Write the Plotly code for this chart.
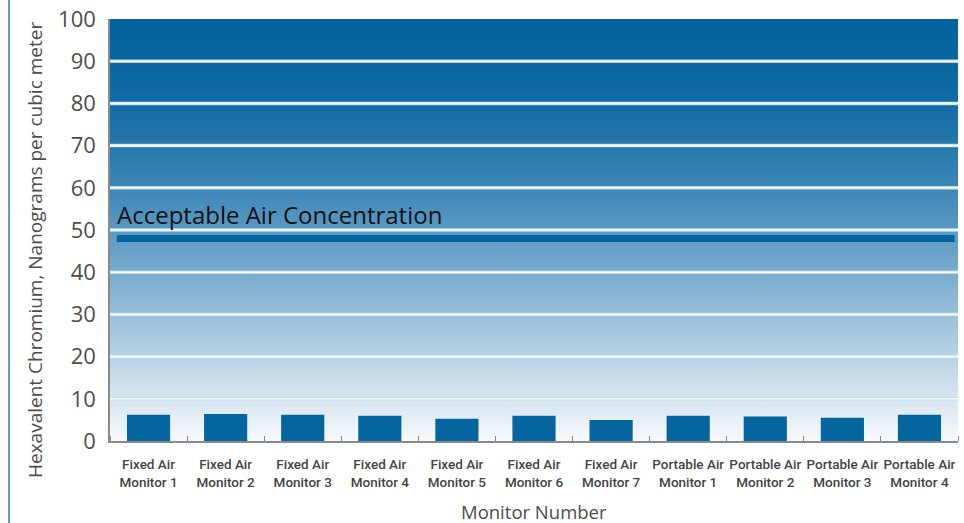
import plotly.graph_objects as go

categories = ["Fixed Air<br>Monitor 1", "Fixed Air<br>Monitor 2", "Fixed Air<br>Monitor 3",
              "Fixed Air<br>Monitor 4", "Fixed Air<br>Monitor 5", "Fixed Air<br>Monitor 6",
              "Fixed Air<br>Monitor 7", "Portable Air<br>Monitor 1", "Portable Air<br>Monitor 2",
              "Portable Air<br>Monitor 3", "Portable Air<br>Monitor 4"]
values = [6.2, 6.4, 6.2, 6.0, 5.3, 6.0, 5.0, 6.0, 5.8, 5.5, 6.2]
acceptable_level = 48
y_ticks = [0, 10, 20, 30, 40, 50, 60, 70, 80, 90, 100]

BLUE = "#05659f"
n = len(categories)
positions = list(range(n))
GEO = "Open Sans, sans-serif"
GRAY = "#4d4d4d"

fig = go.Figure()

# gradient background
fig.add_trace(go.Scatter(
    x=[-0.5, n - 0.5, n - 0.5, -0.5, -0.5], y=[0, 0, 100, 100, 0],
    mode="lines", line=dict(width=0), fill="toself",
    fillgradient=dict(type="vertical", start=0, stop=100, colorscale=[
        [0.0, "#f7fafc"], [0.1, "#d6e5ef"], [0.2, "#b8d2e4"], [0.3, "#99c0d9"],
        [0.4, "#78abcf"], [0.5, "#5a99c3"], [0.6, "#3d87b7"], [0.7, "#2577ac"],
        [0.8, "#136ca5"], [0.9, "#0866a0"], [1.0, "#03629c"]]),
    hoverinfo="skip", showlegend=False))

fig.add_trace(go.Bar(x=positions, y=values, marker=dict(color=BLUE, line=dict(width=0)),
                     xaxis="x2", yaxis="y2", showlegend=False))

shapes = []
for t in y_ticks[1:-1]:
    shapes.append(dict(type="line", xref="x domain", yref="y", x0=0, x1=1, y0=t, y1=t,
                       line=dict(color="#b9dcf2", width=3.5), layer="above"))
    shapes.append(dict(type="line", xref="x domain", yref="y", x0=0, x1=1, y0=t, y1=t,
                       line=dict(color="#ffffff", width=1.6), layer="above"))
shapes.append(dict(type="line", xref="x domain", yref="y", x0=0.008, x1=0.996,
                   y0=acceptable_level, y1=acceptable_level,
                   line=dict(color=BLUE, width=7), layer="above"))
# left frame line
shapes.append(dict(type="line", xref="paper", yref="paper", x0=-0.119, x1=-0.119,
                   y0=-0.2, y1=1.05, line=dict(color="#2a73a8", width=1.5)))

fig.update_layout(
    width=964, height=523,
    margin=dict(l=110, r=6, t=19, b=82),
    paper_bgcolor="white", plot_bgcolor="white",
    bargap=0.44,
    shapes=shapes,
    font=dict(family=GEO, color=GRAY),
    xaxis=dict(
        range=[-0.5, n - 0.5], tickvals=positions, ticktext=categories, tickangle=0,
        automargin=False, anchor="y",
        showgrid=False, showline=True, linecolor="#8a8a8a", linewidth=1.5, zeroline=False,
        ticks="", ticklabelstandoff=10,
        minor=dict(tick0=-0.5, dtick=1, ticks="inside", ticklen=5, tickcolor="#8a8a8a",
                   showgrid=False),
        tickfont=dict(family="Roboto, sans-serif", size=13.5, color="#444444", weight=500),
    ),
    yaxis=dict(
        range=[0, 100], tickvals=y_ticks, showgrid=False, zeroline=False, automargin=False,
        showline=True, linecolor="#8a8a8a", linewidth=1.5, ticks="", ticklabelstandoff=8,
        tickfont=dict(size=22, color=GRAY),
    ),
    xaxis2=dict(overlaying="x", range=[-0.5, n - 0.5], visible=False),
    yaxis2=dict(overlaying="y", range=[0, 100], visible=False),
    annotations=[
        dict(text="Acceptable Air Concentration", xref="x domain", yref="y",
             x=0.006, y=53.6, xanchor="left", yanchor="middle", showarrow=False,
             font=dict(family=GEO, size=24, color="#111111")),
        dict(text="Hexavalent Chromium, Nanograms per cubic meter", xref="paper", yref="paper",
             x=-0.0884, y=0.4526, xanchor="center", yanchor="middle", textangle=-90,
             showarrow=False, font=dict(family=GEO, size=19, color=GRAY)),
        dict(text="Monitor Number", xref="paper", yref="paper",
             x=0.5, y=-0.166, xanchor="center", yanchor="middle",
             showarrow=False, font=dict(family=GEO, size=18.5, color=GRAY)),
    ],
)

fig.write_html("out.html", post_script="document.body.style.margin='0px';",
               config={"displayModeBar": False})
